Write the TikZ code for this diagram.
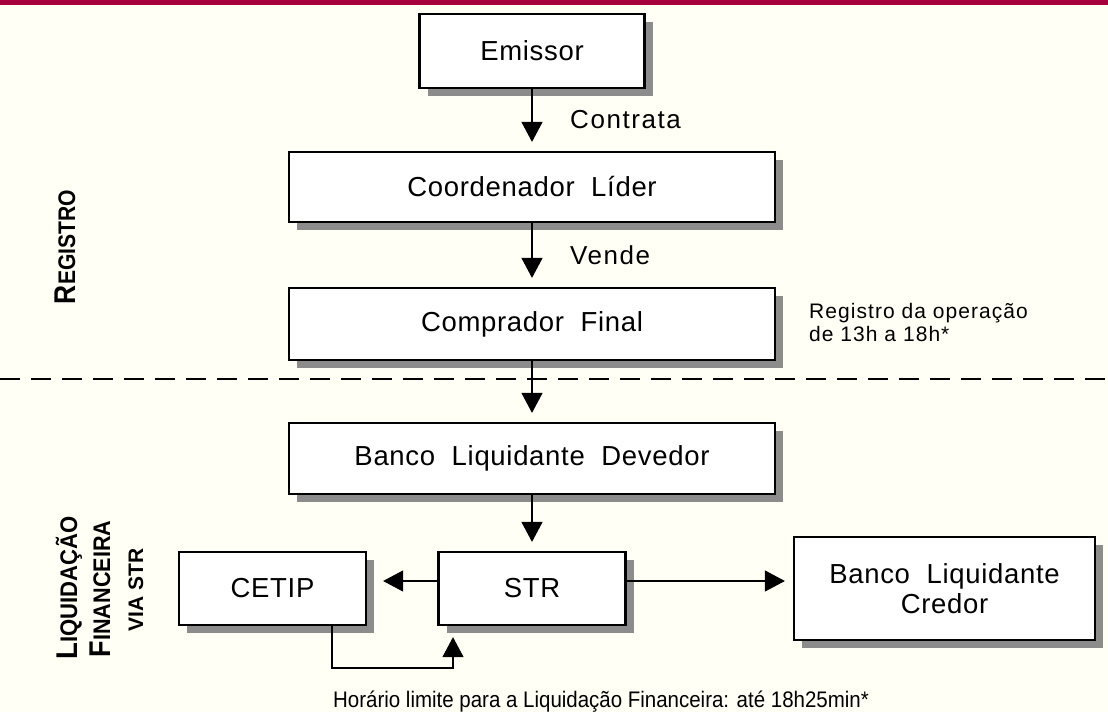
\documentclass[tikz,border=0pt]{standalone}
\usepackage{fontspec}
\usepackage{graphicx}
\setmainfont{Liberation Sans}
\usetikzlibrary{arrows.meta,shadows}
\definecolor{bg}{HTML}{FFFFF5}
\definecolor{topbar}{HTML}{A6003A}
\definecolor{shade}{HTML}{8C8C8C}
\newcommand\boxfnt{\fontsize{27.5}{30}\selectfont\addfontfeature{LetterSpace=2.5}}
\newcommand\lblfnt{\fontsize{26}{28}\selectfont\addfontfeature{LetterSpace=6}}
\newcommand\notefnt{\fontsize{21}{23}\selectfont\addfontfeature{LetterSpace=5}}
\newcommand\limfnt{\fontsize{22.5}{26}\selectfont\addfontfeature{FakeStretch=0.91}}
\newcommand\wsp{\hspace{0.3em}}
\newcommand\sideA{\fontsize{30}{35}\selectfont}
\newcommand\sideB{\fontsize{24}{35}\selectfont}
\newcommand\sideC{\fontsize{21}{35}\selectfont}
\begin{document}
\begin{tikzpicture}[x=1pt,y=-1pt,
  box/.style={draw, line width=2.2pt, fill=white, rectangle, inner sep=0pt,
    font=\boxfnt, align=center,
    drop shadow={shadow xshift=8pt, shadow yshift=-8pt, fill=shade, opacity=1}},
  arr/.style={line width=1.1pt, -{Triangle[length=20pt,width=21pt]}},
  sidelbl/.style={rotate=90, anchor=base, inner sep=0pt, font=\bfseries}
]
\fill[bg] (0,0) rectangle (1108,712);
\useasboundingbox (0,0) rectangle (1108,712);
\fill[topbar] (0,0) rectangle (1108,4.5);

% dashed separator
\draw[line width=2pt, dash pattern=on 20pt off 11pt] (0,379) -- (1108,379);

% boxes
\node[box, minimum width=225pt, minimum height=74pt] (emissor) at (532,51) {Emissor};
\node[box, minimum width=486pt, minimum height=70pt] (coord) at (532,187) {Coordenador\wsp{} Líder};
\node[box, minimum width=486pt, minimum height=72pt] (comp) at (532,324) {Comprador\wsp{} Final};
\node[box, minimum width=486pt, minimum height=71pt] (dev) at (532,458.5) {Banco\wsp{} Liquidante\wsp{} Devedor};
\node[box, minimum width=187pt, minimum height=73pt] (cetip) at (272.5,588.5) {CETIP};
\node[box, minimum width=187pt, minimum height=73pt] (str) at (532,588.5) {STR};
\node[box, minimum width=301pt, minimum height=103pt] (cred) at (944.5,588.5) {Banco\wsp{} Liquidante\\Credor};

% arrows
\draw[arr, shorten >=9pt] (emissor) -- (coord);
\draw[arr, shorten >=9pt] (coord) -- (comp);
\draw[arr, shorten >=9pt] (comp) -- (dev);
\draw[arr, shorten >=9pt] (dev) -- (str);
\draw[arr, shorten >=8pt] ([yshift=7.5pt]str.east) -- ([yshift=7.5pt]cred.west);
\draw[arr, shorten >=16pt] ([yshift=7.5pt]str.west) -- ([yshift=7.5pt]cetip.east);
\coordinate (loop) at (453,668);
\draw[arr, shorten >=11pt] ([xshift=59.5pt]cetip.south) |- (loop) -- ([xshift=-79pt]str.south);

% labels
\node[anchor=west, inner sep=0pt, font=\lblfnt] (contrata) at (570,120) {Contrata};
\node[anchor=west, inner sep=0pt, font=\lblfnt] (vende) at (570,255) {Vende};
\node[anchor=west, inner sep=0pt, align=left, font=\notefnt] (regop) at (809,322) {Registro da operação\\de 13h a 18h*};
\node[anchor=base west, inner sep=0pt, font=\limfnt] (horario) at (333,707) {Horário limite para a Liquidação Financeira: até 18h25min*};

% side labels
\node[sidelbl] (registro) at (75,247) {\scalebox{0.88}[1]{\sideA R\sideB EGISTRO}};
\node[sidelbl] (liq1) at (77,588) {\scalebox{0.92}[1]{\sideA L\sideB IQUIDAÇÃO}};
\node[sidelbl] (liq2) at (110,589) {\scalebox{0.9}[1]{\sideA F\sideB INANCEIRA}};
\node[sidelbl] (liq3) at (143,590) {\sideC VIA STR};
\end{tikzpicture}
\end{document}
